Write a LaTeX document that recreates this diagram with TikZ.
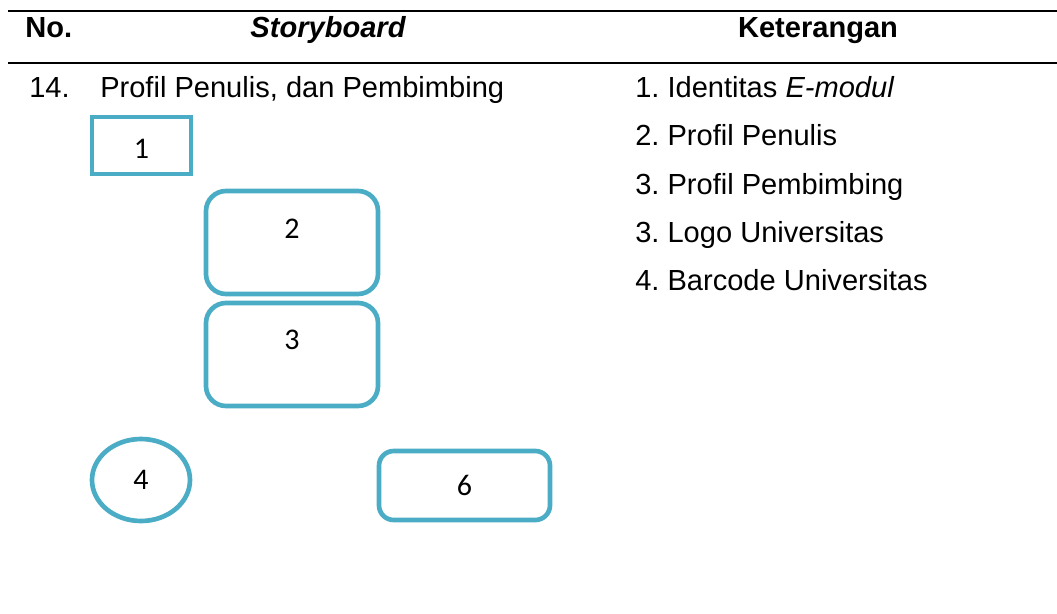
\documentclass[tikz,border=0pt]{standalone}
\usepackage{fontspec}
\setmainfont{Liberation Sans}
\newfontfamily\calibrifont{Carlito}
\usetikzlibrary{calc,positioning,shapes.geometric}
\frenchspacing

\definecolor{boxblue}{HTML}{4BACC6}

\begin{document}
\begin{tikzpicture}[x=0.75pt, y=-0.75pt,
    txt/.style={anchor=base west, inner sep=0pt, font=\fontsize{21.8}{26}\selectfont},
    head/.style={anchor=base, inner sep=0pt, font=\fontsize{21.8}{26}\selectfont\bfseries},
    numtxt/.style={inner sep=0pt, font=\calibrifont\fontsize{22.5}{27}\selectfont},
    plainbox/.style={draw=boxblue, line width=3.5pt, inner sep=0pt},
    roundbox/.style={plainbox, rounded corners=15pt},
    rule/.style={line width=1.6pt}]

      % Internal geometry (pixels of the page)
      \def\px{0.75pt}
      \useasboundingbox (0,0) rectangle (1057,614);

      % Table rules
      \coordinate (TL) at (8,11);
      \coordinate (TR) at (1057,11);
      \coordinate (ML) at (8,63);
      \coordinate (MR) at (1057,63);
      \draw[rule] (TL) -- (TR);
      \draw[rule] (ML) -- (MR);

      % Header
      \node[txt, font=\fontsize{21.8}{26}\selectfont\bfseries] (no) at (25,37) {No.};
      \node[head] (sb) at (328,37) {\itshape Storyboard};
      \node[head] (ket) at (818,37) {Keterangan};

      % Row 14
      \node[txt] (num) at (29,97) {14.};
      \node[txt] (title) at (100,97) {Profil Penulis, dan Pembimbing};

      % Keterangan list
      \node[txt] (k1) at (635,97) {1. Identitas \textit{E-modul}};
      \node[txt] (k2) at (635,145) {2. Profil Penulis};
      \node[txt] (k3) at (635,194) {3. Profil Pembimbing};
      \node[txt] (k4) at (635,242) {3. Logo Universitas};
      \node[txt] (k5) at (635,290) {4. Barcode Universitas};

      % Storyboard boxes
      \node[plainbox, minimum width=99*\px, minimum height=57*\px] (b1) at (141.5,145.5) {};
      \node[numtxt] (n1) at ($(b1.center)+(0,3)$) {1};

      \node[roundbox, minimum width=172*\px, minimum height=103*\px] (b2) at (292,242.5) {};
      \node[numtxt] (n2) at ($(b2.north)+(0,40)$) {2};

      \node[roundbox, minimum width=172*\px, minimum height=103*\px] (b3) at (292,354.5) {};
      \node[numtxt] (n3) at ($(b3.north)+(0,39)$) {3};

      \node[plainbox, ellipse, minimum width=98*\px, minimum height=82*\px] (b4) at (141,480) {};
      \node[numtxt] (n4) at (b4.center) {4};

      \node[roundbox, rounded corners=11pt, minimum width=171*\px, minimum height=69*\px] (b6) at (464.5,485.5) {};
      \node[numtxt] (n6) at (b6.center) {6};

    \end{tikzpicture}
\end{document}
